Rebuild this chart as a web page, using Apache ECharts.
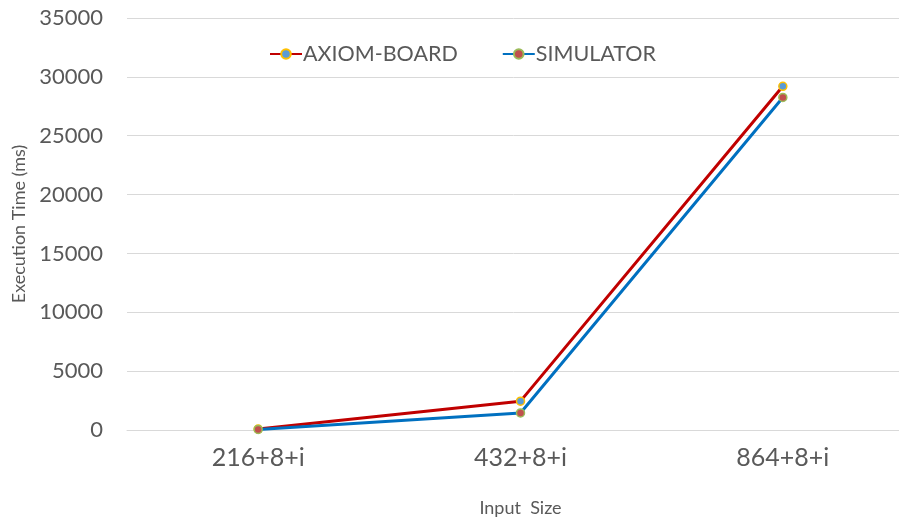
<!DOCTYPE html>
<html>
<head>
<meta charset="utf-8">
<script src="https://cdn.jsdelivr.net/npm/echarts@6/dist/echarts.min.js"></script>
<style>
  html, body { margin: 0; padding: 0; background: #ffffff; }
  #chart { width: 899px; height: 519px; }
</style>
</head>
<body>
<div id="chart"></div>
<script>
// Input sizes along the horizontal axis
const categories = ['216+8+i', '432+8+i', '864+8+i'];
// Execution times in milliseconds
const axiomBoard = [80, 2450, 29200];
const simulator = [50, 1450, 28250];
const yTicks = { min: 0, max: 35000, interval: 5000 };

const FONT = 'Lato, "Liberation Sans", sans-serif';
const TEXT = '#595959';

const chart = echarts.init(document.getElementById('chart'));
chart.setOption({
  animation: false,
  textStyle: { fontFamily: FONT },
  legend: {
    top: 38,
    left: 264,
    itemWidth: 32,
    itemHeight: 12,
    itemGap: 44,
    textStyle: { fontFamily: FONT, fontSize: 21.5, color: TEXT, padding: [0, 0, 0, -4] },
    data: ['AXIOM-BOARD', 'SIMULATOR']
  },
  // plot area runs past the right edge so the last category sits at its slot centre
  grid: {
    left: 127, width: 787, top: 18, bottom: 89,
    containLabel: false, outerBoundsMode: 'none'
  },
  xAxis: {
    type: 'category',
    data: categories,
    boundaryGap: true,
    name: 'Input  Size',
    nameLocation: 'middle',
    nameGap: 69,
    nameTextStyle: { fontFamily: FONT, fontSize: 18, color: TEXT },
    axisLine: { lineStyle: { color: '#d9d9d9', width: 1 } },
    axisTick: { show: false },
    axisLabel: { fontFamily: FONT, fontSize: 25, color: TEXT, margin: 15 }
  },
  yAxis: {
    type: 'value',
    min: yTicks.min,
    max: yTicks.max,
    interval: yTicks.interval,
    name: 'Execution Time (ms)',
    nameLocation: 'middle',
    nameGap: 98,
    nameRotate: 90,
    nameTextStyle: { fontFamily: FONT, fontSize: 18, color: TEXT },
    axisLine: { show: false },
    axisTick: { show: false },
    axisLabel: {
      fontFamily: FONT, fontSize: 22, color: TEXT, margin: 24,
      formatter: v => String(v)
    },
    splitLine: { lineStyle: { color: '#d9d9d9', width: 1 } }
  },
  series: [
    {
      name: 'AXIOM-BOARD',
      type: 'line',
      data: axiomBoard,
      symbol: 'circle',
      symbolSize: 8,
      lineStyle: { color: '#c00000', width: 3 },
      itemStyle: { color: '#5b9bd5', borderColor: '#ffc000', borderWidth: 1.5 },
      z: 2
    },
    {
      name: 'SIMULATOR',
      type: 'line',
      data: simulator,
      symbol: 'circle',
      symbolSize: 8,
      lineStyle: { color: '#0070c0', width: 3 },
      itemStyle: { color: '#c0504d', borderColor: '#9bbb59', borderWidth: 1.5 },
      z: 3
    }
  ]
});
</script>
</body>
</html>
